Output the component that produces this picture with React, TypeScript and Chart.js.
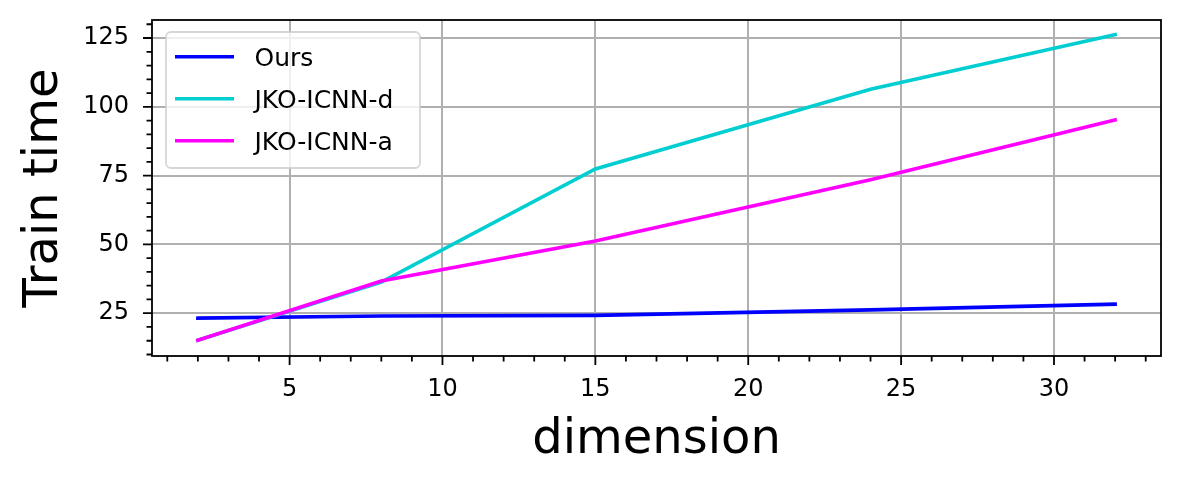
import React, { useEffect, useRef } from "react";
import { Chart, registerables } from "chart.js";

Chart.register(...registerables);

const dimensions = [2, 8, 15, 24, 32];
const oursTimes = [23.2, 24.0, 24.2, 26.2, 28.3];
const jkoDTimes = [15.2, 36.3, 77.4, 106.4, 126.2];
const jkoATimes = [15.2, 36.7, 51.2, 73.5, 95.2];
const seriesLabels = ["Ours", "JKO-ICNN-d", "JKO-ICNN-a"];
const seriesColors = ["#0000ff", "#00ced1", "#ff00ff"];
const xTickValues = [5, 10, 15, 20, 25, 30];
const yTickValues = [25, 50, 75, 100, 125];
const xMinorStep = 1;
const yMinorStep = 5;
const xLabel = "dimension";
const yLabel = "Train time";

const FONT = "'DejaVu Sans', sans-serif";

const frameTicksPlugin = {
  id: "frameTicks",
  afterDraw(chart: any) {
    const ctx = chart.ctx;
    const { left, right, top, bottom } = chart.chartArea;
    const xs = chart.scales.x;
    const ys = chart.scales.y;
    ctx.save();
    ctx.strokeStyle = "#000";
    ctx.lineWidth = 1.8;
    ctx.beginPath();
    for (let v = Math.ceil(xs.min); v <= xs.max; v += xMinorStep) {
      const px = xs.getPixelForValue(v);
      const len = xTickValues.includes(v) ? 9 : 5.5;
      ctx.moveTo(px, bottom);
      ctx.lineTo(px, bottom + len);
    }
    for (let v = Math.ceil(ys.min / yMinorStep) * yMinorStep; v <= ys.max; v += yMinorStep) {
      const py = ys.getPixelForValue(v);
      const len = yTickValues.includes(v) ? 9 : 5.5;
      ctx.moveTo(left, py);
      ctx.lineTo(left - len, py);
    }
    ctx.stroke();
    ctx.strokeRect(left, top, right - left, bottom - top);
    ctx.restore();
  },
};

const legendPlugin = {
  id: "innerLegend",
  afterDatasetsDraw(chart: any) {
    const ctx = chart.ctx;
    ctx.save();
    const bx = 166, by = 32, bw = 254, bh = 136;
    ctx.beginPath();
    (ctx as any).roundRect(bx, by, bw, bh, 5);
    ctx.fillStyle = "rgba(255,255,255,0.8)";
    ctx.fill();
    ctx.strokeStyle = "rgba(204,204,204,0.8)";
    ctx.lineWidth = 1.8;
    ctx.stroke();
    const rows = [56.7, 98.8, 140.7];
    chart.data.datasets.forEach((ds: any, i: number) => {
      const y = rows[i];
      ctx.strokeStyle = ds.borderColor;
      ctx.lineWidth = 3.6;
      ctx.beginPath();
      ctx.moveTo(175, y);
      ctx.lineTo(234, y);
      ctx.stroke();
      ctx.fillStyle = "#000";
      ctx.font = `25px ${FONT}`;
      ctx.textBaseline = "alphabetic";
      ctx.textAlign = "left";
      ctx.fillText(ds.label, 254.5, y + 9.6);
    });
    ctx.restore();
  },
};

export default function App() {
  const ref = useRef<HTMLCanvasElement | null>(null);
  useEffect(() => {
    document.body.style.margin = "0";
    const canvas = ref.current!;
    const series = [oursTimes, jkoDTimes, jkoATimes];
    const chart = new Chart(canvas, {
      type: "line",
      data: {
        datasets: series.map((vals, i) => ({
          label: seriesLabels[i],
          data: dimensions.map((d, j) => ({ x: d, y: vals[j] })),
          borderColor: seriesColors[i],
          backgroundColor: seriesColors[i],
          borderWidth: 3.6,
          borderCapStyle: "square",
          pointRadius: 0,
          tension: 0,
          fill: false,
          order: 3 - i,
        })),
      },
      options: {
        animation: false,
        responsive: false,
        devicePixelRatio: 1,
        layout: { padding: { left: 0, right: 19, top: 20, bottom: 0 } },
        plugins: { legend: { display: false }, tooltip: { enabled: false } },
        scales: {
          x: {
            type: "linear",
            min: 0.5,
            max: 33.5,
            afterBuildTicks: (s: any) => {
              s.ticks = xTickValues.map((v) => ({ value: v }));
            },
            afterFit: (s: any) => {
              s.height = 127;
              s.paddingLeft = 0;
              s.paddingRight = 0;
            },
            grid: { color: "#b0b0b0", lineWidth: 2, drawTicks: false },
            border: { display: false },
            ticks: {
              color: "#000",
              font: { family: FONT, size: 24 },
              padding: 19,
              maxRotation: 0,
              autoSkip: false,
            },
            title: {
              display: true,
              text: xLabel,
              color: "#000",
              font: { family: FONT, size: 48, lineHeight: 1 },
              padding: { top: 0, bottom: 18 },
            },
          },
          y: {
            type: "linear",
            min: 9.45,
            max: 131.55,
            afterBuildTicks: (s: any) => {
              s.ticks = yTickValues.map((v) => ({ value: v }));
            },
            afterFit: (s: any) => {
              s.width = 152;
              s.paddingTop = 0;
              s.paddingBottom = 0;
            },
            grid: { color: "#b0b0b0", lineWidth: 2, drawTicks: false },
            border: { display: false },
            ticks: {
              color: "#000",
              font: { family: FONT, size: 24 },
              padding: 23,
              autoSkip: false,
            },
            title: {
              display: true,
              text: yLabel,
              color: "#000",
              font: { family: FONT, size: 48, lineHeight: 1 },
              padding: { top: 21, bottom: 0 },
            },
          },
        },
      },
      plugins: [frameTicksPlugin, legendPlugin],
    } as any);
    return () => chart.destroy();
  }, []);
  return <canvas ref={ref} width={1180} height={483} style={{ display: "block" }} />;
}
